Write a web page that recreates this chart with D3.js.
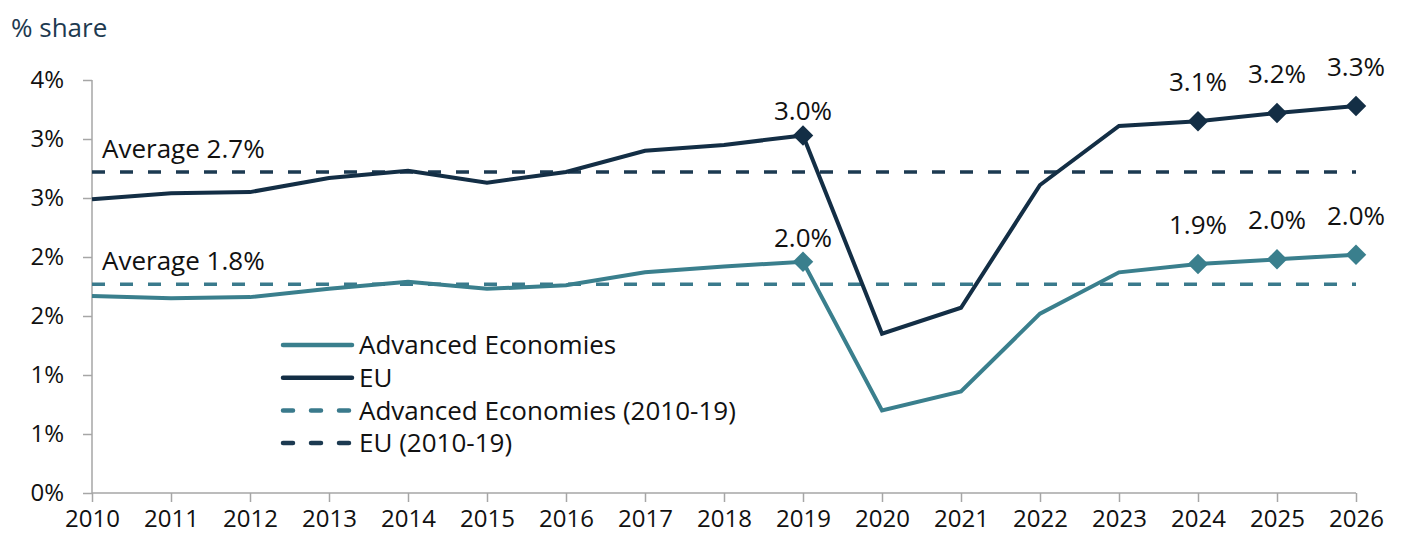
<!DOCTYPE html>
<html>
<head>
<meta charset="utf-8">
<script src="https://cdn.jsdelivr.net/npm/d3@7"></script>
<style>
  body { margin: 0; background: #fff; }
  svg text { font-family: "Open Sans", "Noto Sans", sans-serif; }
</style>
</head>
<body>
<svg id="chart" width="1403" height="534"></svg>
<script>
// ---- data ----
var years = [2010, 2011, 2012, 2013, 2014, 2015, 2016, 2017, 2018, 2019, 2020, 2021, 2022, 2023, 2024, 2025, 2026];
var euValues = [2.49, 2.54, 2.55, 2.67, 2.73, 2.63, 2.72, 2.90, 2.95, 3.03, 1.35, 1.57, 2.61, 3.11, 3.15, 3.22, 3.28];
var aeValues = [1.67, 1.65, 1.66, 1.73, 1.79, 1.73, 1.76, 1.87, 1.92, 1.96, 0.70, 0.86, 1.52, 1.87, 1.94, 1.98, 2.02];
var euAverage = 2.72;
var aeAverage = 1.77;
var averageLabels = ["Average 2.7%", "Average 1.8%"];
var labelYears = [2019, 2024, 2025, 2026];
var euLabels = ["3.0%", "3.1%", "3.2%", "3.3%"];
var aeLabels = ["2.0%", "1.9%", "2.0%", "2.0%"];
var yTicks = [0, 0.5, 1, 1.5, 2, 2.5, 3, 3.5];
var legendNames = ["Advanced Economies", "EU", "Advanced Economies (2010-19)", "EU (2010-19)"];

var euColor = "#132e45", aeColor = "#3a7f8d";
var euDash = "#1c3a51", aeDash = "#3a7a8c";

var svg = d3.select("#chart");

var x = d3.scaleLinear().domain([2010, 2026]).range([92, 1356]);
var y = d3.scaleLinear().domain([0, 3.5]).range([493, 80]);

/*========== title ===========*/
svg.append("text")
    .attr("x", 11).attr("y", 37)
    .style("font-size", "26px")
    .style("fill", "#1e3a50")
    .text("% share");

/*========== axes ===========*/
var yAxis = svg.append("g")
    .attr("transform", "translate(92,0)")
    .call(d3.axisLeft(y).tickValues(yTicks).tickSize(9).tickPadding(19)
        .tickFormat(function (d) { return Math.round(d) + "%"; }));

var xAxis = svg.append("g")
    .attr("transform", "translate(0,493)")
    .call(d3.axisBottom(x).tickValues(years).tickSize(9).tickPadding(8)
        .tickFormat(d3.format("d")));

[yAxis, xAxis].forEach(function (ax) {
    ax.select(".domain").attr("stroke", "#a6a6a6").attr("stroke-width", 1.5);
    ax.selectAll(".tick line").attr("stroke", "#a6a6a6").attr("stroke-width", 1.5);
    ax.selectAll(".tick text").style("font-size", "24px").style("fill", "#111")
        .style("font-family", "'Open Sans', 'Noto Sans', sans-serif");
});
// d3 draws outer ticks on the domain path, redraw domain plainly
yAxis.select(".domain").attr("d", "M0," + y(3.5) + "V" + y(0));
xAxis.select(".domain").attr("d", "M" + x(2010) + ",0H" + x(2026));

/*========== average lines ===========*/
var averages = [
    { v: euAverage, color: euDash, label: averageLabels[0] },
    { v: aeAverage, color: aeDash, label: averageLabels[1] }
];
svg.append("g").selectAll("line")
    .data(averages)
    .enter()
    .append("line")
    .attr("x1", x(2010)).attr("x2", x(2026))
    .attr("y1", function (d) { return y(d.v); })
    .attr("y2", function (d) { return y(d.v); })
    .attr("stroke", function (d) { return d.color; })
    .attr("stroke-width", 3.5)
    .attr("stroke-dasharray", "13,15");

svg.append("g").selectAll("text")
    .data(averages)
    .enter()
    .append("text")
    .attr("x", 102)
    .attr("y", function (d) { return y(d.v) - 14; })
    .style("font-size", "26px")
    .style("fill", "#111")
    .text(function (d) { return d.label; });

/*========== series lines ===========*/
var line = d3.line()
    .x(function (d, i) { return x(years[i]); })
    .y(function (d) { return y(d); });

var series = [
    { values: aeValues, color: aeColor, labels: aeLabels },
    { values: euValues, color: euColor, labels: euLabels }
];

series.forEach(function (s) {
    svg.append("path")
        .datum(s.values)
        .attr("d", line)
        .attr("fill", "none")
        .attr("stroke", s.color)
        .attr("stroke-width", 4)
        .attr("stroke-linejoin", "miter");

    var pts = labelYears.map(function (yr, j) {
        var i = years.indexOf(yr);
        return { yr: yr, v: s.values[i], label: s.labels[j] };
    });

    svg.append("g").selectAll("path")
        .data(pts)
        .enter()
        .append("path")
        .attr("d", d3.symbol().type(d3.symbolSquare).size(210))
        .attr("transform", function (d) {
            return "translate(" + x(d.yr) + "," + y(d.v) + ") rotate(45)";
        })
        .attr("fill", s.color);

    svg.append("g").selectAll("text")
        .data(pts)
        .enter()
        .append("text")
        .attr("x", function (d) { return x(d.yr); })
        .attr("y", function (d) { return y(d.v) - (d.yr === 2019 ? 15 : 30); })
        .style("text-anchor", "middle")
        .style("font-size", "26px")
        .style("fill", "#111")
        .text(function (d) { return d.label; });
});

/*========== legend ===========*/
var legendStyles = [
    { color: aeColor, dash: null, width: 4.5 },
    { color: euColor, dash: null, width: 4.5 },
    { color: aeDash, dash: "10,18", width: 4.5 },
    { color: euDash, dash: "10,18", width: 4.5 }
];
var legend = svg.append("g").attr("transform", "translate(283,345)");
var items = legend.selectAll(".legItem")
    .data(legendNames)
    .enter()
    .append("g")
    .attr("class", "legItem")
    .attr("transform", function (d, i) { return "translate(0," + i * 32.7 + ")"; });

items.append("line")
    .attr("x1", 0).attr("x2", 69)
    .attr("stroke", function (d, i) { return legendStyles[i].color; })
    .attr("stroke-width", function (d, i) { return legendStyles[i].width; })
    .attr("stroke-linecap", "round")
    .attr("stroke-dasharray", function (d, i) { return legendStyles[i].dash; });

items.append("text")
    .attr("x", 76)
    .attr("dy", "0.36em")
    .style("font-size", "26px")
    .style("fill", "#111")
    .text(function (d) { return d; });
</script>
</body>
</html>
